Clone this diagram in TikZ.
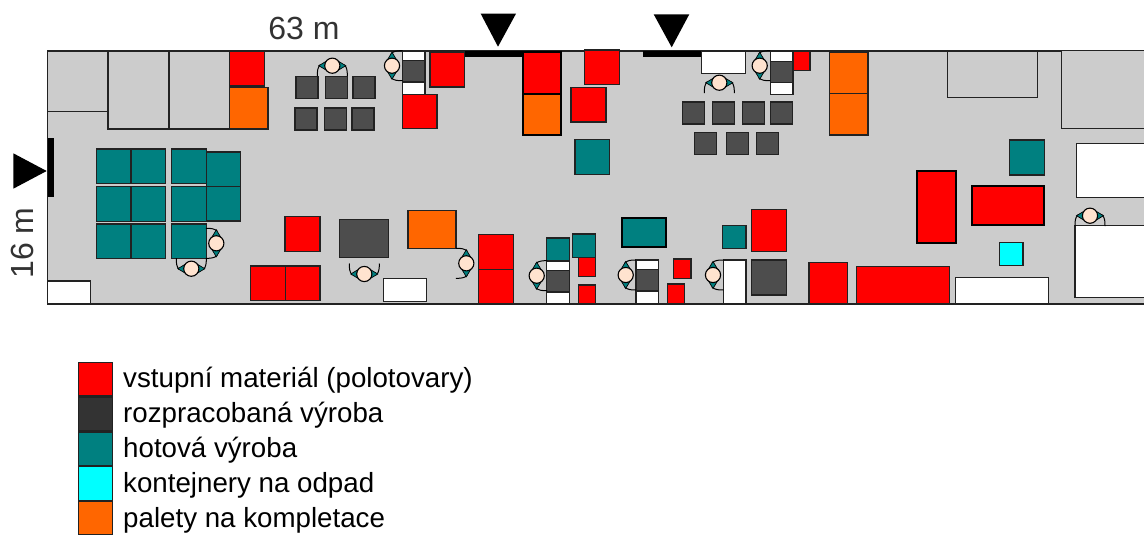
\documentclass[tikz,border=0pt]{standalone}
\usepackage{fontspec}
\setmainfont{Liberation Sans}
\usepackage{tikz}
\usetikzlibrary{positioning}
\definecolor{hallgray}{HTML}{CCCCCC}
\definecolor{edgegray}{HTML}{222222}
\definecolor{matlred}{HTML}{FF0000}
\definecolor{wipgray}{HTML}{4D4D4D}
\definecolor{keygray}{HTML}{333333}
\definecolor{donegreen}{HTML}{008080}
\definecolor{wasteblue}{HTML}{00FFFF}
\definecolor{kitorange}{HTML}{FF6600}
\definecolor{headskin}{HTML}{FFE3CF}

\tikzset{
  box/.style={draw=edgegray,line width=1.3pt},
  matl/.style={box,fill=matlred},
  wip/.style={box,fill=wipgray},
  done/.style={box,fill=donegreen},
  waste/.style={box,fill=wasteblue},
  kit/.style={box,fill=kitorange},
  free/.style={box,fill=white},
  zone/.style={box,fill=hallgray},
  heavy/.style={line width=2.2pt,draw=black},
  keybox/.style={draw=edgegray,line width=1.3pt,inner sep=0pt,minimum width=34pt,minimum height=33.5pt},
  keytext/.style={anchor=base west,inner sep=0pt,font=\fontsize{27.7}{30}\selectfont},
  dimtext/.style={inner sep=0pt,text=keygray,font=\fontsize{32}{34}\selectfont},
  worker/.pic={
    \draw[line width=1pt,black] (-12,-1) .. controls (-15,2) and (-15,6) .. (-15,10.5);
    \draw[line width=1pt,black] (12,-1) .. controls (15,2) and (15,6) .. (15,10.5);
    \draw[fill=donegreen,line width=0.7pt] (-13.5,0) -- (-6,-4.5) -- (-6,4.5) -- cycle;
    \draw[fill=donegreen,line width=0.7pt] (13.5,0) -- (6,-4.5) -- (6,4.5) -- cycle;
    \draw[fill=headskin,line width=1.1pt] (0,0) circle (7.6pt);
  }
}

\newcommand{\workdesk}[3]{
  \draw[free] (#1,#2) rectangle ++(22.7,#3);
  \draw[wip] (#1,#2+9.5) rectangle ++(22.7,21.5);
}

\begin{document}
\begin{tikzpicture}[x=1pt,y=-1pt]
  \clip (0,0) rectangle (1144,535);

  % hall
  \fill[hallgray] (47.5,51) rectangle (1146,304);
  \draw[edgegray,line width=1.3pt] (1146,51) -- (47.5,51) -- (47.5,304) -- (1146,304);

  % doors
  \fill[black] (47.5,137.7) rectangle (54.3,197.3);
  \fill[black] (464.7,51) rectangle (523,57.5);
  \fill[black] (643.3,51) rectangle (701.7,56.7);
  \fill[black] (13.3,153.3) -- (46.7,171) -- (13.3,188.7) -- cycle;
  \fill[black] (480.7,13.7) -- (516,13.7) -- (498,46.7) -- cycle;
  \fill[black] (653.7,14.3) -- (689.3,14.3) -- (671.7,47.3) -- cycle;

  % marked areas
  \foreach \xa/\ya/\xb/\yb in {47.5/51/108/111.5, 108/51/169/129, 169/51/229.5/129,
    947.3/51.7/1037.7/97.3, 1061.7/50.7/1150/128.3}
    \draw[zone] (\xa,\ya) rectangle (\xb,\yb);

  % white tables
  \foreach \xa/\ya/\xb/\yb in {47.5/281/90.7/304, 383.3/278.7/426.7/301.7, 701.7/51/745.3/73.7,
    723.3/260/746/303.3, 955.7/277.3/1048.7/304, 1076.3/143.3/1150/197.7, 1075/225.7/1150/297.7}
    \draw[free] (\xa,\ya) rectangle (\xb,\yb);

  % input material
  \foreach \xa/\ya/\xb/\yb in {229.5/51/264.5/86, 285/216.7/320/251.7, 250.7/266/285.3/300.7,
    285.3/266/320/300.7, 430/52.3/464.3/87, 402.3/94.3/437/128.7,
    584.7/50/619.7/84.7, 571/87.3/606/122, 478.7/234.7/513.7/269.3, 478.7/269.3/513.7/304,
    578.3/257.3/595.7/276.3, 578.3/285/595.7/304, 673.3/259/691/278.3, 667.3/284/684.7/303.3,
    751.7/209.7/786.7/251.3, 793/51/810/70.3, 809/262.7/847.7/304, 856.7/266.3/949.7/304}
    \draw[matl] (\xa,\ya) rectangle (\xb,\yb);
  \draw[matl,line width=1.7pt,draw=black] (522.7,52.3) rectangle (561,93.5);
  \draw[matl,heavy] (916.7,171) rectangle (956,243);
  \draw[matl,heavy] (972.3,186.3) rectangle (1044.3,225.3);

  % work in progress
  \foreach \xa/\ya in {296/76.5, 325.5/76.5, 353/76.5, 295/108, 324.5/108, 352/108,
    682.7/102, 712.3/102, 742.7/102, 770.3/102, 694.3/132.3, 726.3/132.3, 756.7/132.3}
    \draw[wip] (\xa,\ya) rectangle ++(22,22);
  \draw[wip] (339.7,219.3) rectangle (388.3,257.7);
  \draw[wip] (751.7,260) rectangle (786.7,295);

  % finished goods
  \foreach \xa in {96.5,131,171.5}
    \foreach \ya in {149,186.5,224}
      \draw[done] (\xa,\ya) rectangle ++(34.7,34.7);
  \foreach \xa/\ya/\xb/\yb in {206.5/152/240.5/186.5, 206.5/186.5/240.5/221, 575/139.7/609.7/174.3,
    546.7/238/569.7/261, 572.3/234/595.7/257.3, 722.7/225.3/746/248.7, 1009.3/140/1044.3/175}
    \draw[done] (\xa,\ya) rectangle (\xb,\yb);
  \draw[done,heavy] (622,217.7) rectangle (666,247.3);

  % pallets and waste
  \foreach \xa/\ya/\xb/\yb in {229.5/87.5/268/129, 408/210.3/456/248.7, 829.3/52/868/93.7, 829.3/93.7/868/135}
    \draw[kit] (\xa,\ya) rectangle (\xb,\yb);
  \draw[kit,line width=1.7pt,draw=black] (522.7,93.7) rectangle (561,135);
  \draw[waste] (999.7,242.7) rectangle (1023,265.7);

  % work places
  \workdesk{402.3}{51}{43.3}
  \workdesk{770.3}{51.7}{42.6}
  \workdesk{546.7}{261}{43}
  \workdesk{636}{260}{43.3}

  % people
  \pic at (332.3,65.7) {worker};
  \pic at (719.3,82.7) {worker};
  \pic at (1090,215.7) {worker};
  \pic[rotate=90] at (392,65.7) {worker};
  \pic[rotate=90] at (759.7,65.7) {worker};
  \pic[rotate=90] at (536.7,275.7) {worker};
  \pic[rotate=90] at (625.7,275) {worker};
  \pic[rotate=90] at (713,275) {worker};
  \pic[rotate=-90] at (216.3,243.3) {worker};
  \pic[rotate=-90] at (466.3,263.3) {worker};
  \pic[rotate=180] at (191.3,268.7) {worker};
  \pic[rotate=180] at (364.3,274) {worker};

  % dimensions
  \node[dimtext] (length) at (304,28) {63 m};
  \node[dimtext,rotate=90] (width) at (22,243) {16 m};

  % legend
  \node[keybox,fill=matlred] (key_1) at (95.3,379) {};
  \node[keybox,fill=keygray] (key_2) [below=0pt of key_1] {};
  \node[keybox,fill=donegreen] (key_3) [below=0pt of key_2] {};
  \node[keybox,fill=wasteblue] (key_4) [below=0pt of key_3] {};
  \node[keybox,fill=kitorange] (key_5) [below=0pt of key_4] {};
  \node[keytext] (label_1) at (123,387.5) {vstupní materiál (polotovary)};
  \node[keytext] (label_2) at (123,422.5) {rozpracobaná výroba};
  \node[keytext] (label_3) at (123,457.5) {hotová výroba};
  \node[keytext] (label_4) at (123,492.5) {kontejnery na odpad};
  \node[keytext] (label_5) at (123,527.5) {palety na kompletace};
\end{tikzpicture}
\end{document}
